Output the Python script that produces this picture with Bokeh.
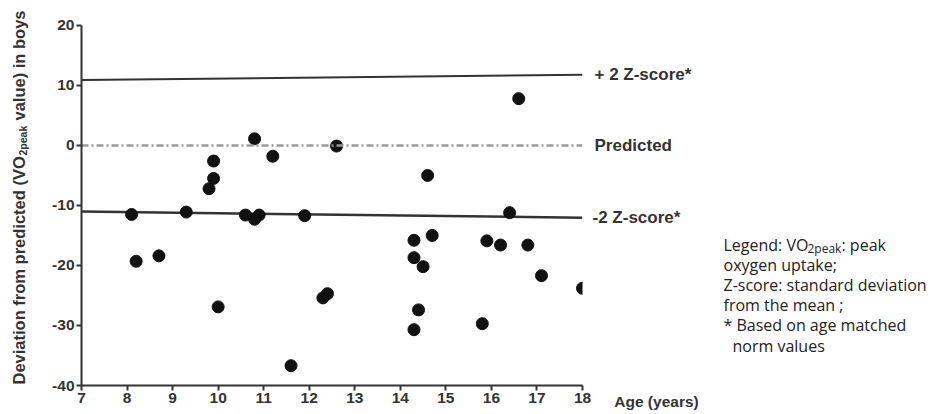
import math
from bokeh.plotting import figure
from bokeh.layouts import row
from bokeh.models import Label, FixedTicker, Range1d
from bokeh.embed import file_html
from bokeh.resources import INLINE

# ---- data ----
age = [8.1, 8.2, 8.7, 9.3, 9.8, 9.9, 9.9, 10.0, 10.8, 10.6, 10.8, 10.9, 11.2, 11.6, 11.9,
       12.6, 14.6, 12.3, 12.4, 14.3, 14.3, 14.5, 14.4, 14.3, 14.7,
       16.6, 16.4, 15.9, 16.2, 16.8, 17.1, 18.0, 15.8]
deviation = [-11.5, -19.3, -18.4, -11.1, -7.2, -5.5, -2.6, -26.9, 1.1, -11.6, -12.3, -11.6, -1.8, -36.7, -11.7,
             -0.1, -5.0, -25.4, -24.7, -15.8, -18.7, -20.2, -27.4, -30.7, -15.0,
             7.8, -11.2, -15.9, -16.6, -16.6, -21.7, -23.8, -29.7]

line_x = [7, 18]
plus2_y = [10.9, 11.8]
predicted_y = [0, 0]
minus2_y = [-11.0, -12.05]

x_ticks = list(range(7, 19))
y_ticks = [-40, -30, -20, -10, 0, 10, 20]
y_min, y_max = -40, 20

line_labels = ["+ 2 Z-score*", "Predicted", "-2 Z-score*"]
legend_lines = ["oxygen uptake;", "Z-score: standard deviation", "from the mean ;", "* Based on age matched"]

DARK = "#333333"
BOLD_FONT = "Liberation Sans"

# ---- layout constants (pixels) ----
H = 412
FRAME_TOP = 10          # top of all plot frames
FRAME_BOTTOM = 387      # y = -40 sits here
Y_TOP_TICK = 25         # y = 20 sits here
ppu = (FRAME_BOTTOM - Y_TOP_TICK) / (y_max - y_min)
y_range = Range1d(y_min, y_max + (Y_TOP_TICK - FRAME_TOP) / ppu)
BOTTOM = H - FRAME_BOTTOM

def style_axis(ax):
    ax.axis_line_color = DARK
    ax.axis_line_width = 2
    ax.major_tick_line_color = DARK
    ax.major_tick_line_width = 2
    ax.major_tick_out = 5
    ax.major_tick_in = 0
    ax.minor_tick_line_color = None
    ax.major_label_text_font = BOLD_FONT
    ax.major_label_text_font_style = "bold"
    ax.major_label_text_font_size = "15.5px"
    ax.major_label_text_color = DARK
    ax.major_label_standoff = 2

# ---------------- main plot ----------------
p = figure(width=562, height=H, output_backend="svg", toolbar_location=None,
           x_range=Range1d(7, 18), y_range=y_range,
           min_border_left=51, min_border_right=10, min_border_top=FRAME_TOP, min_border_bottom=BOTTOM)
p.outline_line_color = None
p.xgrid.visible = False
p.ygrid.visible = False
style_axis(p.xaxis[0])
style_axis(p.yaxis[0])
p.xaxis.ticker = FixedTicker(ticks=x_ticks)
p.yaxis.ticker = FixedTicker(ticks=y_ticks)
p.yaxis.bounds = (y_min, y_max)
p.yaxis.major_label_overrides = {t: str(t) for t in y_ticks}
p.xaxis.major_label_overrides = {t: str(t) for t in x_ticks}

p.line(line_x, plus2_y, line_color=DARK, line_width=2)
p.line(line_x, minus2_y, line_color=DARK, line_width=2.5)
p.scatter(age, deviation, size=12, fill_color="#111111", line_color="#111111", marker="circle")
p.line(line_x, predicted_y, line_color="#9a9a9a", line_width=2.5, line_dash="7 3 2 3")

# ---------------- left strip: rotated y title ----------------
pl = figure(width=30, height=H, output_backend="svg", toolbar_location=None,
            x_axis_type=None, y_axis_type=None, min_border=0,
            x_range=Range1d(0, 1), y_range=Range1d(0, 1))
pl.outline_line_color = None
pl.xgrid.visible = False
pl.ygrid.visible = False

def rlabel(text, x, y, size):
    pl.add_layout(Label(x=x, y=y, x_units="screen", y_units="screen", text=text,
                        text_font=BOLD_FONT, text_font_style="bold", text_font_size=size,
                        text_color=DARK, text_baseline="middle", text_align="left",
                        angle=math.pi / 2))

rlabel("Deviation from predicted (VO", 18, 1, "16.5px")
rlabel("2peak", 22, 230, "10.5px")
rlabel("value) in boys", 18, 265, "16.5px")

# ---------------- right strip: line labels, axis title & note ----------------
PR_W = 356
pr = figure(width=PR_W, height=H, output_backend="svg", toolbar_location=None,
            y_axis_type=None, min_border=0, min_border_bottom=BOTTOM,
            x_range=Range1d(0, PR_W), y_range=y_range)
pr.outline_line_color = None
pr.xgrid.visible = False
pr.ygrid.visible = False
style_axis(pr.xaxis[0])
pr.xaxis.axis_line_color = None
pr.xaxis.major_tick_line_color = None
pr.xaxis.ticker = FixedTicker(ticks=[64])
pr.xaxis.major_label_overrides = {64: "Age (years)"}

def blabel(text, x, y, size="17px"):
    pr.add_layout(Label(x=x, y=y, x_units="screen", y_units="data", text=text,
                        text_font=BOLD_FONT, text_font_style="bold", text_font_size=size,
                        text_color=DARK, text_baseline="middle", text_align="left"))

blabel(line_labels[0], 2, plus2_y[-1])
blabel(line_labels[1], 2, predicted_y[-1])
blabel(line_labels[2], 0, minus2_y[-1])

def nlabel(text, x, y, size="16px"):
    pr.add_layout(Label(x=x, y=y, x_units="screen", y_units="screen", text=text,
                        text_font="Open Sans", text_font_size=size, text_color="#222222",
                        text_baseline="alphabetic", text_align="left"))

nlabel("Legend: VO", 131, 141)
nlabel("2peak", 215, 137, size="12px")
nlabel(": peak", 249, 141)
for i, t in enumerate(legend_lines):
    nlabel(t, 131, 121 - i * 20.3)
nlabel("norm values", 140, 40)

layout = row(pl, p, pr)
open("out.html", "w").write(file_html(layout, INLINE))
